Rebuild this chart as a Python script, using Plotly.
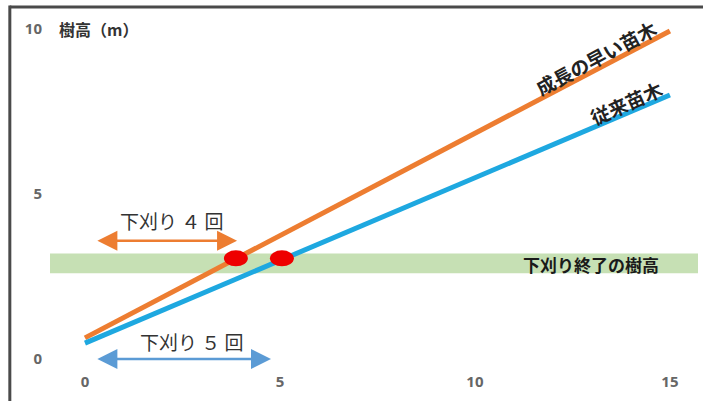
import plotly.graph_objects as go

# ---- data ----
years = [0, 15]
fast_height = [0.64, 9.94]        # 成長の早い苗木
conv_height = [0.48, 8.0]         # 従来苗木
end_height = 3.05                 # 下刈り終了の樹高
band_low, band_high = 2.6, 3.2
band_x = [-1.0, 15.75]
reach_fast = 3.87                 # year fast seedling reaches end height
reach_conv = 5.05                 # year conventional seedling reaches end height
x_ticks = [0, 5, 10, 15]
y_ticks = [0, 5, 10]

ORANGE = "#ed7d31"
BLUE = "#1ea8e0"
JP = "Noto Sans CJK JP"

fig = go.Figure()

# green band
fig.add_trace(go.Scatter(
    x=[band_x[0], band_x[1], band_x[1], band_x[0], band_x[0]],
    y=[band_low, band_low, band_high, band_high, band_low],
    fill="toself", fillcolor="#c6e0b4", line=dict(width=0),
    mode="lines", hoverinfo="skip", showlegend=False))

fig.add_trace(go.Scatter(x=years, y=fast_height, mode="lines",
                         line=dict(color=ORANGE, width=5), showlegend=False))
fig.add_trace(go.Scatter(x=years, y=conv_height, mode="lines",
                         line=dict(color=BLUE, width=5), showlegend=False))

shapes = []
# red ellipses at crossing points
for xv in [reach_fast, reach_conv]:
    shapes.append(dict(type="circle", xref="x", yref="y",
                       xsizemode="pixel", ysizemode="pixel",
                       xanchor=xv, yanchor=end_height,
                       x0=-12, x1=12, y0=-8, y1=8,
                       fillcolor="#ee0000", line=dict(width=0), layer="above"))
# frame lines
shapes.append(dict(type="line", xref="paper", yref="paper",
                   x0=-0.062, x1=1.01, y0=0.981, y1=0.981,
                   line=dict(color="#4a4a4a", width=3)))
shapes.append(dict(type="line", xref="paper", yref="paper",
                   x0=-0.062, x1=-0.062, y0=0.985, y1=-0.09,
                   line=dict(color="#4a4a4a", width=3)))

annotations = []
# double arrows
arrow_start = 0.28
for xe, ye, col in [(reach_fast + 0.03, 3.58, ORANGE), (4.77, 0.0, "#5b9bd5")]:
    annotations.append(dict(x=xe, y=ye, ax=arrow_start, ay=ye, axref="x", ayref="y",
                            xref="x", yref="y", text="", showarrow=True,
                            arrowside="end+start", arrowhead=2, arrowsize=1.6,
                            arrowwidth=2.5, arrowcolor=col,
                            standoff=0, startstandoff=0))

annotations += [
    dict(x=-0.72, y=10, xref="x", yref="y", text="<b>樹高（m）</b>", showarrow=False,
         xanchor="left", yanchor="middle", font=dict(family=JP, size=16, color="#333333")),
    dict(x=2.23, y=4.21, xref="x", yref="y", text="下刈り ４ 回", showarrow=False,
         font=dict(family=JP, size=19, color="#333333")),
    dict(x=2.74, y=0.52, xref="x", yref="y", text="下刈り ５ 回", showarrow=False,
         font=dict(family=JP, size=19, color="#333333")),
    dict(x=14.78, y=2.87, xref="x", yref="y", text="<b>下刈り終了の樹高</b>", showarrow=False,
         xanchor="right", font=dict(family=JP, size=17, color="#1a1a1a")),
    dict(x=13.1, y=9.15, xref="x", yref="y", text="<b>成長の早い苗木</b>", showarrow=False,
         textangle=-28, font=dict(family=JP, size=19, color="#222222")),
    dict(x=13.88, y=7.78, xref="x", yref="y", text="<b>従来苗木</b>", showarrow=False,
         textangle=-24, font=dict(family=JP, size=19, color="#222222")),
]

fig.update_layout(
    width=703, height=401,
    margin=dict(l=50, r=5, t=0, b=30),
    paper_bgcolor="white", plot_bgcolor="white",
    shapes=shapes, annotations=annotations, showlegend=False,
    xaxis=dict(range=[-0.897, 15.72], tickvals=x_ticks, showgrid=False, zeroline=False,
               showline=False, ticks="",
               tickfont=dict(family="Noto Sans", size=15, color="#666666", weight="bold")),
    yaxis=dict(range=[-0.364, 10.88], tickvals=y_ticks, showgrid=False, zeroline=False,
               showline=False, ticks="", ticklabelstandoff=7,
               tickfont=dict(family="Noto Sans", size=15, color="#666666", weight="bold")),
)

fig.write_html("out.html", config={"displayModeBar": False},
               post_script="document.body.style.margin='0';")
